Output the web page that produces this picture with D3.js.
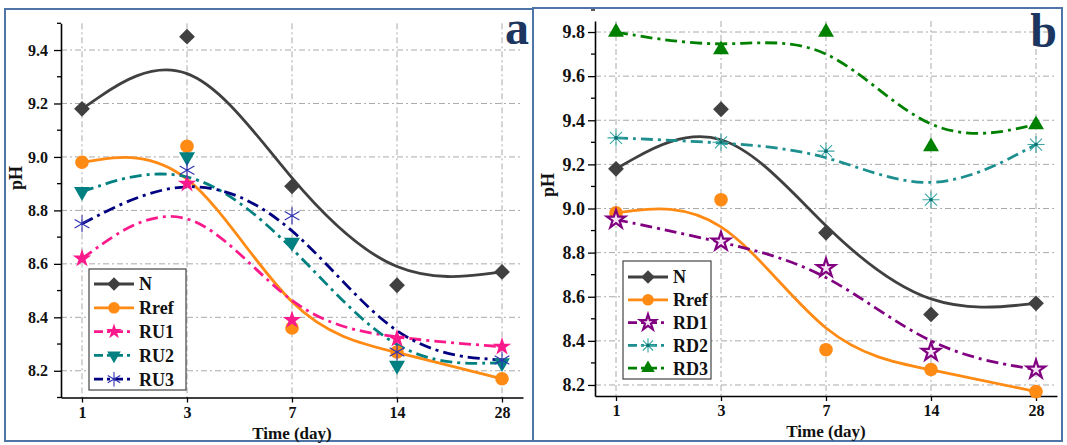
<!DOCTYPE html>
<html>
<head>
<meta charset="utf-8">
<script src="https://cdn.jsdelivr.net/npm/d3@7"></script>
<style>
  html, body { margin: 0; padding: 0; background: #fff; }
  svg { display: block; }
  svg text { font-family: "Liberation Serif", "Times New Roman", Tinos, serif; font-weight: bold; fill: #111; }
</style>
</head>
<body>
<svg id="chart" width="1067" height="445" font-family="Liberation Serif, serif"></svg>
<script>
// Sampling days (categorical x axis)
const days = ["1", "3", "7", "14", "28"];

// pH series
const nVals    = [9.18, 9.45, 8.89, 8.52, 8.57];
const rrefVals = [8.98, 9.04, 8.36, 8.27, 8.17];
const ru1Vals  = [8.62, 8.90, 8.39, 8.32, 8.29];
const ru2Vals  = [8.87, 9.00, 8.68, 8.22, 8.23];
const ru3Vals  = [8.75, 8.95, 8.78, 8.27, 8.24];
const rd1Vals  = [8.95, 8.85, 8.73, 8.35, 8.27];
const rd2Vals  = [9.32, 9.30, 9.26, 9.04, 9.29];
const rd3Vals  = [9.80, 9.72, 9.80, 9.28, 9.38];

// Tick labels on the pH axes
const ticksA = [8.2, 8.4, 8.6, 8.8, 9.0, 9.2, 9.4];
const ticksB = [8.2, 8.4, 8.6, 8.8, 9.0, 9.2, 9.4, 9.6, 9.8];

const svg = d3.select("#chart");
const SERIF = '"Liberation Serif", "Times New Roman", Tinos, serif';

// asterisk-style markers built from strokes
function asterisk(arms, r) {
  let p = "";
  for (let i = 0; i < arms; i++) {
    const a = Math.PI / 2 + i * Math.PI / arms;
    const dx = Math.cos(a) * r, dy = Math.sin(a) * r;
    p += `M${-dx},${-dy}L${dx},${dy}`;
  }
  return p;
}

const styles = {
  N:    { color: "#404040", dash: null, marker: "diamond" },
  Rref: { color: "#ff8a14", dash: null, marker: "circle" },
  RU1:  { color: "#fa1a8c", dash: "12,5,3,5", marker: "star" },
  RU2:  { color: "#008080", dash: "12,5,3,5", marker: "tridown" },
  RU3:  { color: "#000080", dash: "12,5,3,5", marker: "ast6" },
  RD1:  { color: "#800080", dash: "12,5,3,5", marker: "ostar" },
  RD2:  { color: "#1d8f8f", dash: "12,5,3,5", marker: "ast8" },
  RD3:  { color: "#008000", dash: "12,5,3,5", marker: "triup" }
};

function drawMarker(g, type, color, x, y, scale = 1) {
  const t = `translate(${x},${y})`;
  const k = scale * scale;
  switch (type) {
    case "diamond":
      g.append("path").attr("d", d3.symbol(d3.symbolSquare, 125 * k)())
        .attr("transform", t + " rotate(45)").attr("fill", color);
      break;
    case "circle":
      g.append("path").attr("d", d3.symbol(d3.symbolCircle, 145 * k)())
        .attr("transform", t).attr("fill", color);
      break;
    case "star":
      g.append("path").attr("d", d3.symbol(d3.symbolStar, 105 * k)())
        .attr("transform", t).attr("fill", color);
      break;
    case "ostar":
      g.append("path").attr("d", d3.symbol(d3.symbolStar, 105 * k)())
        .attr("transform", t).attr("fill", "#f4e4f4").attr("stroke", color).attr("stroke-width", 2.2);
      break;
    case "tridown":
      g.append("path").attr("d", d3.symbol(d3.symbolTriangle, 110 * k)())
        .attr("transform", t + " rotate(180)").attr("fill", color);
      break;
    case "triup":
      g.append("path").attr("d", d3.symbol(d3.symbolTriangle, 110 * k)())
        .attr("transform", t).attr("fill", color);
      break;
    case "ast6":
      g.append("path").attr("d", asterisk(3, 8.5 * scale))
        .attr("transform", t).attr("stroke", "#3030b0").attr("stroke-width", 1.1).attr("fill", "none");
      break;
    case "ast8":
      g.append("path").attr("d", asterisk(4, 8.5 * scale))
        .attr("transform", t).attr("stroke", "#3aa5a5").attr("stroke-width", 1.1).attr("fill", "none");
      g.append("circle").attr("cx", x).attr("cy", y).attr("r", 1.8).attr("fill", "#0b6f6f");
      break;
  }
}

function panel(cfg) {
  const g = svg.append("g");
  const x = d3.scalePoint().domain(days).range([cfg.left, cfg.right]).padding(0.2);
  const y = d3.scaleLinear().domain(cfg.yDomain).range([cfg.bottom, cfg.top]);

  // frame
  g.append("rect").attr("x", cfg.frame[0]).attr("y", cfg.frame[1])
    .attr("width", cfg.frame[2] - cfg.frame[0]).attr("height", cfg.frame[3] - cfg.frame[1])
    .attr("fill", "none").attr("stroke", "#4f74a8").attr("stroke-width", 2);

  // grid
  const grid = g.append("g").attr("stroke", "#aaaaaa").attr("stroke-width", 1)
    .attr("stroke-dasharray", "6,3,2,3").attr("fill", "none");
  cfg.ticks.forEach(v => grid.append("line")
    .attr("x1", cfg.left).attr("x2", cfg.right).attr("y1", y(v)).attr("y2", y(v)));
  days.forEach(d => grid.append("line")
    .attr("x1", x(d)).attr("x2", x(d)).attr("y1", cfg.top).attr("y2", cfg.bottom));

  // y axis: major labelled ticks plus minor ticks
  const yAxis = d3.axisLeft(y).tickValues(cfg.ticks).tickFormat(d3.format(".1f"))
    .tickSize(7).tickSizeOuter(0).tickPadding(cfg.yPad);
  const ya = g.append("g").attr("transform", `translate(${cfg.left},0)`).call(yAxis);
  const minors = d3.range(Math.round(cfg.yDomain[0] * 10), Math.round(cfg.yDomain[1] * 10) + 1)
    .map(k => k / 10).filter(v => !cfg.ticks.some(t => Math.abs(t - v) < 1e-6));
  ya.selectAll(".minor").data(minors).enter().append("line").attr("class", "minor")
    .attr("x1", -4).attr("x2", 0).attr("y1", d => y(d)).attr("y2", d => y(d))
    .attr("stroke", "#000").attr("stroke-width", 1.3);

  // x axis
  const xAxis = d3.axisBottom(x).tickSize(5).tickSizeOuter(0).tickPadding(4);
  const xa = g.append("g").attr("transform", `translate(0,${cfg.bottom})`).call(xAxis);

  [[ya, cfg.tickFont], [xa, 16]].forEach(([a, fs]) => {
    a.attr("font-family", null).attr("font-size", null);
    a.select(".domain").attr("stroke", "#000").attr("stroke-width", 1.6);
    a.selectAll(".tick line").attr("stroke", "#000").attr("stroke-width", 1.3);
    a.selectAll(".tick text").style("font-family", SERIF)
      .style("font-weight", "bold").style("font-size", fs + "px").attr("fill", "#111");
  });

  // axis titles
  g.append("text").attr("x", (cfg.left + cfg.right) / 2).attr("y", cfg.bottom + 41)
    .attr("text-anchor", "middle").style("font-family", SERIF).style("font-size", "17px").text("Time (day)");
  g.append("text").attr("transform", `translate(${cfg.pHx},${cfg.pHy}) rotate(-90)`)
    .attr("text-anchor", "middle").style("font-family", SERIF).style("font-size", "18px").text("pH");

  // curves
  const line = d3.line().x((d, i) => x(days[i])).y(d => y(d)).curve(d3.curveBasis);
  cfg.series.forEach(s => {
    const st = styles[s.name];
    g.append("path").datum(s.values).attr("d", line).attr("fill", "none")
      .attr("stroke", st.color).attr("stroke-width", 2.8)
      .attr("stroke-dasharray", st.dash);
  });
  // markers
  cfg.series.forEach(s => {
    const st = styles[s.name];
    s.values.forEach((v, i) => drawMarker(g, st.marker, st.color, x(days[i]), y(v)));
  });

  // legend
  const L = cfg.legend;
  g.append("rect").attr("x", L.x).attr("y", L.y).attr("width", L.w).attr("height", L.h)
    .attr("fill", "#fff").attr("stroke", "#444").attr("stroke-width", 1.2);
  cfg.series.forEach((s, i) => {
    const st = styles[s.name];
    const cy = L.y + L.first + i * L.step;
    g.append("line").attr("x1", L.x + 5).attr("x2", L.x + 45).attr("y1", cy).attr("y2", cy)
      .attr("stroke", st.color).attr("stroke-width", 2.8)
      .attr("stroke-dasharray", st.dash ? "9,4,3,4" : null);
    drawMarker(g, st.marker, st.color, L.x + 25, cy, 0.85);
    g.append("text").attr("x", L.x + 50).attr("y", cy).attr("dy", "0.35em")
      .style("font-family", SERIF).style("font-size", "18px").text(s.name);
  });

  // panel letter
  g.append("text").attr("x", cfg.letter[0]).attr("y", cfg.letter[1]).attr("text-anchor", "end")
    .style("font-family", SERIF).style("font-size", "48px").style("fill", "#1c3660").text(cfg.label);
}

panel({
  label: "a", letter: [529, 44],
  frame: [5, 9, 533, 441],
  left: 61, right: 523, top: 23.3, bottom: 397.5,
  yDomain: [8.1, 9.5], ticks: ticksA, tickFont: 16, yPad: 6,
  pHx: 22, pHy: 178,
  series: [
    { name: "N", values: nVals },
    { name: "Rref", values: rrefVals },
    { name: "RU1", values: ru1Vals },
    { name: "RU2", values: ru2Vals },
    { name: "RU3", values: ru3Vals }
  ],
  legend: { x: 89, y: 269, w: 97, h: 121, first: 15, step: 23.8 }
});

panel({
  label: "b", letter: [1057, 47],
  frame: [533, 8, 1062, 441],
  left: 595, right: 1057, top: 21, bottom: 396,
  yDomain: [8.15, 9.85], ticks: ticksB, tickFont: 18, yPad: 3,
  pHx: 554, pHy: 185,
  series: [
    { name: "N", values: nVals },
    { name: "Rref", values: rrefVals },
    { name: "RD1", values: rd1Vals },
    { name: "RD2", values: rd2Vals },
    { name: "RD3", values: rd3Vals }
  ],
  legend: { x: 623, y: 261, w: 88, h: 118, first: 16, step: 22.8 }
});
</script>
</body>
</html>
